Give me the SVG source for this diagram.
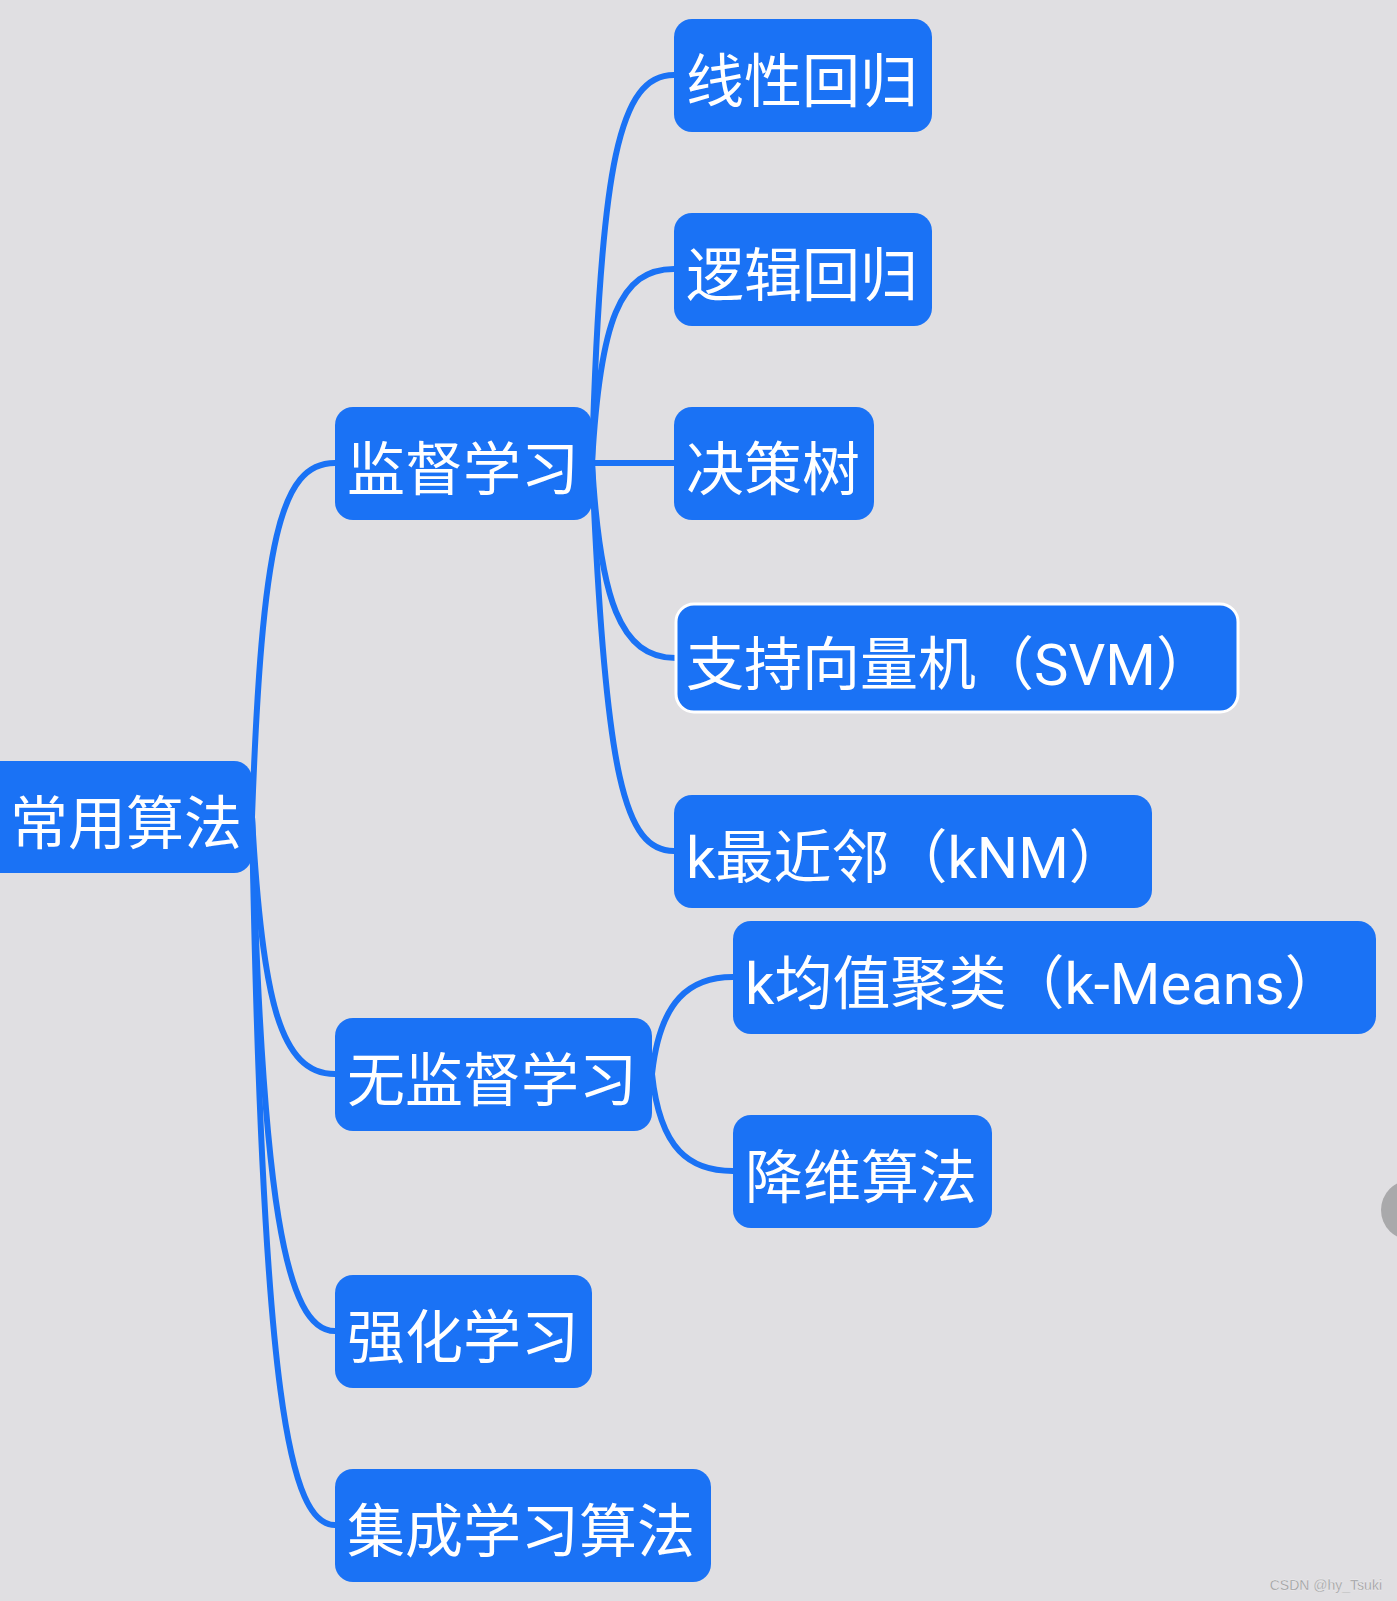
<svg xmlns="http://www.w3.org/2000/svg" width="1397" height="1601" viewBox="0 0 1397 1601">
<style>
.bg{fill:#e0dfe2}
.n rect{fill:#1a72f5}
.n text{fill:#ffffff;font-family:Roboto,"Noto Sans CJK SC","Noto Sans",sans-serif;font-size:58px}
.c path{fill:none;stroke:#1a72f5;stroke-width:6;stroke-linecap:round}
.sel{stroke:#ffffff;stroke-width:3}
</style>
<rect class="bg" x="0" y="0" width="1397" height="1601"/>
<g class="c" id="connectors">
<path d="M252,817 C262,540 280,463 335,463"/>
<path d="M252,817 C262,1000 280,1074 335,1074"/>
<path d="M252,817 C262,1200 285,1331 335,1331"/>
<path d="M252,817 C262,1400 290,1525 335,1525"/>
<path d="M592,463 C600,160 620,75 674,75"/>
<path d="M592,463 C600,320 620,269 674,269"/>
<path d="M592,463 L674,463"/>
<path d="M592,463 C600,600 620,658 676,658"/>
<path d="M592,463 C605,780 625,851 674,851"/>
<path d="M652,1074 C660,1000 690,977 733,977"/>
<path d="M652,1074 C660,1150 690,1171 733,1171"/>
</g>
<g class="n" id="root"><rect x="-20" y="761" width="272" height="112" rx="18"/><text x="10" y="844">常用算法</text></g>
<g class="n" id="supervised"><rect x="335" y="407" width="257" height="113" rx="18"/><text x="347" y="490">监督学习</text></g>
<g class="n" id="linear"><rect x="674" y="19" width="258" height="113" rx="18"/><text x="686" y="102">线性回归</text></g>
<g class="n" id="logistic"><rect x="674" y="213" width="258" height="113" rx="18"/><text x="686" y="296">逻辑回归</text></g>
<g class="n" id="tree"><rect x="674" y="407" width="200" height="113" rx="18"/><text x="686" y="490">决策树</text></g>
<g class="n" id="svm"><rect class="sel" x="676" y="604" width="562" height="108" rx="18"/><text x="686" y="685">支持向量机（SVM）</text></g>
<g class="n" id="knn"><rect x="674" y="795" width="478" height="113" rx="18"/><text x="686" y="878">k最近邻（kNM）</text></g>
<g class="n" id="unsupervised"><rect x="335" y="1018" width="317" height="113" rx="18"/><text x="347" y="1101">无监督学习</text></g>
<g class="n" id="kmeans"><rect x="733" y="921" width="643" height="113" rx="18"/><text x="745" y="1004">k均值聚类（k-Means）</text></g>
<g class="n" id="dimred"><rect x="733" y="1115" width="259" height="113" rx="18"/><text x="745" y="1198">降维算法</text></g>
<g class="n" id="reinforce"><rect x="335" y="1275" width="257" height="113" rx="18"/><text x="347" y="1358">强化学习</text></g>
<g class="n" id="ensemble"><rect x="335" y="1469" width="376" height="113" rx="18"/><text x="347" y="1552">集成学习算法</text></g>
<circle cx="1411" cy="1210" r="30" fill="#a9a9ab"/>
<text x="1382" y="1590" text-anchor="end" font-family="Liberation Sans,Arial,sans-serif" font-size="14" fill="#8e8e90" stroke="#f4f4f4" stroke-width="0.3">CSDN @hy_Tsuki</text>
</svg>
